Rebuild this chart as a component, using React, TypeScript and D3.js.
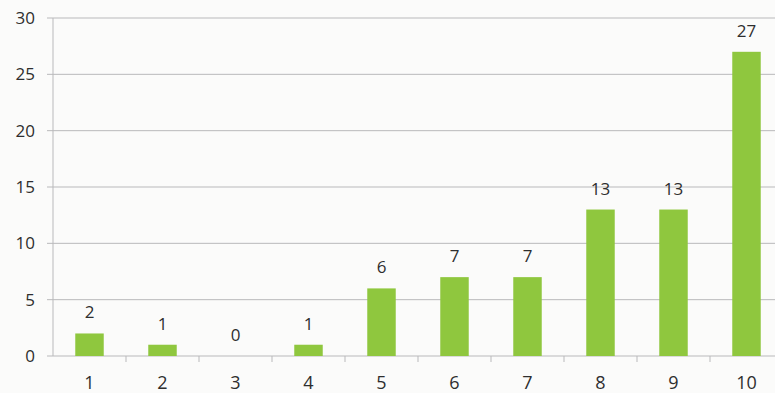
import React from "react";
import * as d3 from "d3";

const categories = ["1", "2", "3", "4", "5", "6", "7", "8", "9", "10"];
const values = [2, 1, 0, 1, 6, 7, 7, 13, 13, 27];
const yTicks = [0, 5, 10, 15, 20, 25, 30];

export default function App() {
  const W = 775, H = 393;
  const x = d3.scaleBand<string>().domain(categories).range([53, 783]).paddingInner(0.61).paddingOuter(0.305);
  const xb = d3.scaleBand<string>().domain(categories).range([53, 783]);
  const y = d3.scaleLinear().domain([0, 30]).range([356, 18]);
  const font = "'Open Sans', 'Liberation Sans', sans-serif";
  const textColor = "#2e2e2e";
  return (
    <svg width={W} height={H} style={{ position: "absolute", left: 0, top: 0, background: "#fbfbfa" }}>
      <rect x={0} y={0} width={W} height={H} fill="#fbfbfa" />
      {yTicks.map((t) => (
        <g key={t}>
          <line x1={47} x2={W} y1={y(t)} y2={y(t)} stroke="#b9b9bb" strokeWidth={1} />
          <text x={35} y={y(t)} dy="0.35em" textAnchor="end" fontFamily={font} fontSize={17} fill={textColor}>{t}</text>
        </g>
      ))}
      <line x1={53} x2={53} y1={y(30)} y2={y(0)} stroke="#b9b9bb" strokeWidth={1} />
      {categories.map((c) => (
        <line key={"t" + c} x1={(xb(c) as number) + xb.bandwidth()} x2={(xb(c) as number) + xb.bandwidth()} y1={y(0)} y2={y(0) + 6} stroke="#b9b9bb" strokeWidth={1} />
      ))}
      {categories.map((c, i) => (
        <g key={c}>
          <rect x={x(c)} y={y(values[i])} width={x.bandwidth()} height={y(0) - y(values[i])} fill="#8fc73e" />
          <text x={(x(c) as number) + x.bandwidth() / 2} y={y(values[i]) - 15} textAnchor="middle" fontFamily={font} fontSize={17} fill={textColor}>{values[i]}</text>
          <text x={(x(c) as number) + x.bandwidth() / 2} y={389} textAnchor="middle" fontFamily={font} fontSize={18} fill={textColor}>{c}</text>
        </g>
      ))}
    </svg>
  );
}
